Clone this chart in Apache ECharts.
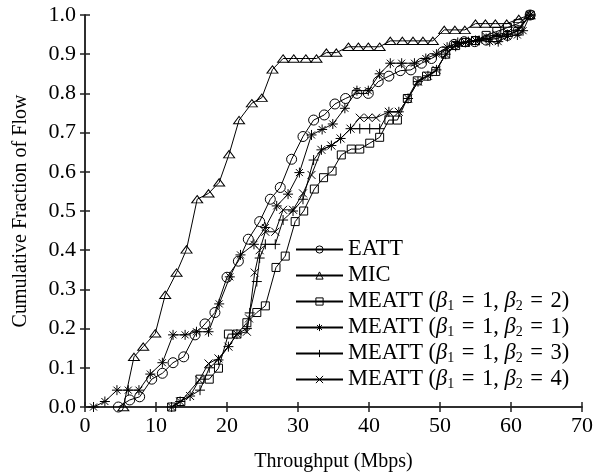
<!DOCTYPE html>
<html>
<head>
<meta charset="utf-8">
<script src="https://cdn.jsdelivr.net/npm/echarts@6/dist/echarts.min.js"></script>
<style>
html, body { margin: 0; padding: 0; background: #fff; }
#main { width: 606px; height: 474px; }
</style>
</head>
<body>
<div id="main"></div>
<script>
// series names (legend order)
const names = [
  'EATT',
  'MIC',
  'MEATT (b1=1, b2=2)',
  'MEATT (b1=1, b2=1)',
  'MEATT (b1=1, b2=3)',
  'MEATT (b1=1, b2=4)'
]

// [throughput Mbps, cumulative fraction]
const eatt = [[4.7,0],[6.3,0.018],[7.7,0.026],[9.4,0.071],[10.9,0.086],[12.4,0.113],[13.9,0.128],[15.5,0.184],[16.9,0.212],[18.3,0.241],[20.0,0.331],[21.6,0.372],[23.0,0.428],[24.6,0.473],[26.1,0.53],[27.5,0.56],[29.1,0.632],[30.7,0.69],[32.2,0.732],[33.7,0.745],[35.2,0.773],[36.7,0.787],[38.3,0.8],[39.9,0.8],[41.3,0.83],[42.8,0.844],[44.4,0.858],[45.9,0.86],[47.4,0.877],[48.8,0.889],[50.4,0.906],[52.0,0.925],[53.4,0.932],[54.9,0.932],[56.5,0.936],[58.0,0.94],[59.5,0.948],[61.0,0.96],[62.7,1.0]]
const mic = [[5.4,0],[6.9,0.128],[8.2,0.154],[9.9,0.188],[11.3,0.286],[12.9,0.343],[14.3,0.402],[15.8,0.53],[17.4,0.545],[18.9,0.573],[20.3,0.645],[21.7,0.732],[23.5,0.775],[24.9,0.789],[26.4,0.861],[27.9,0.889],[29.4,0.889],[31.1,0.889],[32.6,0.889],[34.0,0.904],[35.4,0.904],[37.1,0.919],[38.5,0.919],[39.9,0.919],[41.5,0.919],[43.0,0.934],[44.7,0.934],[46.2,0.934],[47.6,0.934],[49.0,0.934],[50.6,0.962],[52.1,0.962],[53.5,0.962],[55.0,0.978],[56.4,0.978],[57.8,0.978],[59.4,0.978],[61.1,0.99],[62.6,1.0]]
const meatt2 = [[12.2,0],[13.5,0.014],[16.2,0.071],[17.5,0.071],[18.8,0.099],[20.2,0.186],[21.4,0.186],[22.8,0.215],[24.2,0.241],[25.4,0.258],[26.9,0.356],[28.2,0.385],[29.6,0.473],[30.8,0.5],[32.3,0.556],[33.6,0.585],[34.8,0.602],[36.1,0.643],[37.5,0.658],[38.7,0.658],[40.1,0.673],[41.5,0.688],[42.8,0.732],[44.0,0.732],[45.4,0.787],[46.8,0.832],[48.1,0.844],[49.4,0.856],[50.8,0.9],[52.2,0.922],[53.6,0.93],[55.0,0.935],[56.5,0.948],[58.0,0.958],[59.5,0.968],[61.0,0.978],[62.7,1.0]]
const meatt1 = [[1.2,0],[2.8,0.014],[4.5,0.043],[6.1,0.043],[7.6,0.043],[9.2,0.084],[10.9,0.113],[12.4,0.184],[14.1,0.184],[15.7,0.192],[17.4,0.192],[18.9,0.263],[20.4,0.332],[21.9,0.388],[23.8,0.415],[25.4,0.458],[27.0,0.513],[28.6,0.543],[30.2,0.598],[31.9,0.694],[33.4,0.708],[34.9,0.722],[36.6,0.762],[38.3,0.807],[39.9,0.807],[41.5,0.85],[43.0,0.877],[44.6,0.877],[46.4,0.877],[48.0,0.889],[49.5,0.9],[51.0,0.918],[52.5,0.93],[54.0,0.932],[55.5,0.935],[57.0,0.932],[58.2,0.932],[59.5,0.945],[60.9,0.949],[61.7,0.96],[62.7,1.0]]
const meatt3 = [[12.2,0],[13.4,0.014],[14.8,0.028],[16.2,0.043],[17.5,0.1],[18.8,0.12],[20.2,0.154],[21.4,0.186],[22.8,0.2],[23.2,0.24],[24.2,0.32],[24.6,0.38],[25.4,0.415],[26.8,0.415],[27.9,0.477],[29.3,0.5],[30.7,0.53],[32.2,0.63],[33.3,0.656],[34.7,0.667],[36.0,0.685],[37.4,0.71],[38.7,0.71],[40.1,0.71],[41.5,0.71],[42.8,0.753],[44.2,0.753],[45.5,0.787],[46.9,0.83],[48.3,0.845],[49.5,0.86],[50.8,0.9],[52.2,0.92],[53.6,0.93],[55.0,0.935],[56.5,0.94],[58.0,0.945],[59.5,0.95],[61.0,0.96],[62.7,1.0]]
const meatt4 = [[12.2,0],[13.4,0.014],[14.8,0.028],[16.1,0.069],[17.4,0.111],[18.8,0.124],[20.2,0.154],[21.4,0.186],[22.8,0.192],[23.1,0.226],[23.9,0.343],[24.6,0.4],[25.4,0.447],[26.8,0.447],[27.9,0.503],[29.3,0.503],[30.7,0.545],[31.9,0.592],[33.3,0.656],[34.7,0.667],[36.0,0.685],[37.4,0.71],[38.7,0.738],[39.9,0.738],[41.0,0.738],[42.8,0.753],[44.2,0.753],[45.5,0.787],[46.9,0.83],[48.3,0.845],[49.5,0.86],[50.8,0.9],[52.2,0.925],[53.6,0.93],[55.0,0.935],[56.5,0.945],[58.0,0.95],[59.5,0.955],[61.0,0.965],[62.7,1.0]]

const allData = [eatt, mic, meatt2, meatt1, meatt3, meatt4]

const symbols = [
  'path://M0,-5A5,5 0 1,1 0,5A5,5 0 1,1 0,-5Z',
  'path://M0,-5L5.5,4L-5.5,4Z',
  'path://M-4,-4L4,-4L4,4L-4,4Z',
  'path://M0,-5L0,5M-5,0L5,0M-3.5,-3.5L3.5,3.5M-3.5,3.5L3.5,-3.5',
  'path://M0,-5L0,5M-5,0L5,0',
  'path://M-4,-4L4,4M-4,4L4,-4'
]
const sizes = [10, [11, 9], 8, 10, 10, 8]

const font = 'Liberation Serif'

// thick math spaces around "="
const sp = '\u2004'
const beta = b2 => 'MEATT ({g|β}{s|1}' + sp + '=' + sp + '1, {g|β}{s|2}' + sp + '=' + sp + b2 + ')'
const legendText = {
  'EATT': 'EATT',
  'MIC': 'MIC',
  'MEATT (b1=1, b2=2)': beta(2),
  'MEATT (b1=1, b2=1)': beta(1),
  'MEATT (b1=1, b2=3)': beta(3),
  'MEATT (b1=1, b2=4)': beta(4)
}

const axisLine = { lineStyle: { color: '#222', width: 1.5 } }
const axisTick = { inside: true, length: 5, lineStyle: { color: '#222', width: 1.5 } }

const chart = echarts.init(document.getElementById('main'))
chart.setOption({
  animation: false,
  backgroundColor: '#fff',
  textStyle: { fontFamily: font, color: '#000' },
  grid: { left: 85, right: 24, top: 15, bottom: 67, outerBoundsMode: 'none' },
  legend: {
    data: names,
    orient: 'vertical',
    left: 290,
    top: 233,
    itemWidth: 47,
    itemHeight: 9,
    itemGap: 3,
    itemStyle: { borderWidth: 1 },
    formatter: n => legendText[n],
    textStyle: {
      fontFamily: font, fontSize: 22.5, color: '#000', lineHeight: 22,
      rich: {
        g: { fontFamily: font, fontSize: 22.5, fontStyle: 'italic', lineHeight: 22 },
        s: { fontFamily: font, fontSize: 14, lineHeight: 22, padding: [9, 0, 0, 0] }
      }
    }
  },
  xAxis: [{
    type: 'value', min: 0, max: 70, interval: 10, position: 'bottom',
    name: 'Throughput (Mbps)', nameLocation: 'middle', nameGap: 45,
    nameTextStyle: { fontFamily: font, fontSize: 20, color: '#000' },
    axisLine, axisTick,
    axisLabel: { fontFamily: font, fontSize: 22, color: '#000', margin: 8 },
    splitLine: { show: false }
  }, {
    type: 'value', min: 0, max: 70, interval: 10, position: 'top',
    axisLine, axisTick, axisLabel: { show: false }, splitLine: { show: false }
  }],
  yAxis: [{
    type: 'value', min: 0, max: 1, interval: 0.1, position: 'left',
    name: 'Cumulative Fraction of Flow', nameLocation: 'middle', nameGap: 54,
    nameTextStyle: { fontFamily: font, fontSize: 20, color: '#000' },
    axisLine, axisTick,
    axisLabel: { fontFamily: font, fontSize: 22, color: '#000', margin: 9, formatter: v => v.toFixed(1) },
    splitLine: { show: false }
  }, {
    type: 'value', min: 0, max: 1, interval: 0.1, position: 'right',
    axisLine, axisTick, axisLabel: { show: false }, splitLine: { show: false }
  }],
  series: names.map((n, i) => ({
    name: n,
    type: 'line',
    data: allData[i],
    symbol: symbols[i],
    symbolSize: sizes[i],
    symbolKeepAspect: true,
    showAllSymbol: true,
    itemStyle: { color: 'rgba(0,0,0,0)', borderColor: '#000', borderWidth: 1 },
    lineStyle: { color: '#000', width: 1 },
    emphasis: { disabled: true }
  }))
})
</script>
</body>
</html>
